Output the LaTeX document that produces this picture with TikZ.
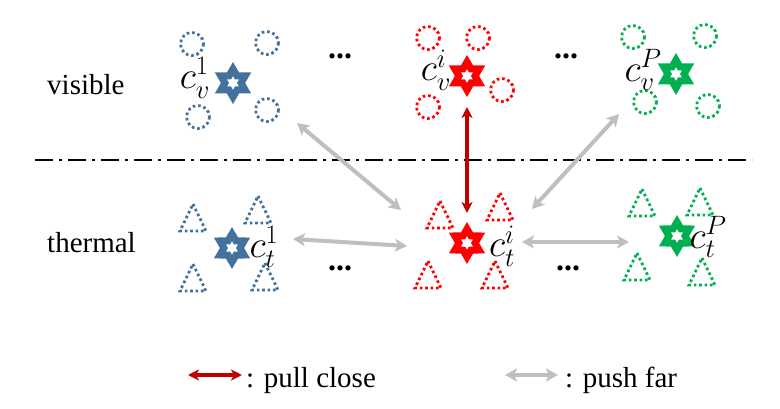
\documentclass[tikz,border=0pt]{standalone}
\usepackage{fix-cm}
\usepackage{fontspec}
\setmainfont{Liberation Serif}
\usetikzlibrary{shapes.geometric,arrows.meta}
\definecolor{cblue}{HTML}{41719C}
\definecolor{cred}{HTML}{FF0000}
\definecolor{cgreen}{HTML}{00B050}
\definecolor{cdark}{HTML}{C00000}
\definecolor{cgray}{HTML}{BFBFBF}
\tikzset{
  hstar/.style={star, star points=6, star point ratio=1.732, minimum size=28pt, inner sep=0pt, outer sep=0pt, line width=7pt, fill=white, draw=#1},
  dcirc/.style={draw=#1, line width=2.8pt, dash pattern=on 2.6pt off 2.8pt, line cap=butt},
  dtri/.style={draw=#1, line width=2.8pt, dash pattern=on 2.6pt off 2.8pt, line cap=butt},
  lab/.style={font=\fontsize{38}{40}\selectfont, inner sep=0pt},
  rowlab/.style={font=\fontsize{29}{32}\selectfont, inner sep=0pt},
  dots/.style={font=\fontsize{32}{34}\selectfont\bfseries, inner sep=0pt},
  push/.style={draw=cgray, line width=4pt, {Stealth[length=12pt,width=13pt,inset=3pt]}-{Stealth[length=12pt,width=13pt,inset=3pt]}},
  pull/.style={draw=cdark, line width=3.5pt, {Stealth[length=11pt,width=11pt,inset=3pt]}-{Stealth[length=11pt,width=11pt,inset=3pt]}},
}
\newcommand{\dottri}[3]{\draw[dtri=#3] (#1,#2-14) -- (#1+13,#2+13) -- (#1-13,#2+13) -- cycle;}
\begin{document}
\begin{tikzpicture}[x=1pt,y=-1pt]
\useasboundingbox (0,0) rectangle (780,409);
% row labels
\node[rowlab, anchor=base west] (vis) at (47,95) {visible};
\node[rowlab, anchor=base west] (the) at (47,252) {thermal};
% dash-dot separator
\coordinate (sepL) at (35,160);
\coordinate (sepR) at (752,160);
\draw[line width=2.6pt, dash pattern=on 18pt off 6pt on 3pt off 6pt] (sepL) -- (sepR);
% visible circles
\foreach \x/\y in {192/44, 267/43, 198/117, 267/110}{\draw[dcirc=cblue] (\x,\y) circle (11.5);}
\foreach \x/\y in {428/38, 478/38, 502/90, 428/107}{\draw[dcirc=cred] (\x,\y) circle (11.5);}
\foreach \x/\y in {633/37, 705/36, 645/102, 708/106}{\draw[dcirc=cgreen] (\x,\y) circle (11.5);}
% thermal triangles
\foreach \x/\y in {193/218, 258/210, 193/278, 265/277}{\dottri{\x}{\y}{cblue}}
\foreach \x/\y in {440/215, 500/207, 428/275, 495/275}{\dottri{\x}{\y}{cred}}
\foreach \x/\y in {642/203, 700/202, 637/267, 702/272}{\dottri{\x}{\y}{cgreen}}
% stars
\node[hstar=cblue] (bv) at (233,83) {};
\node[hstar=cred] (rv) at (467,76) {};
\node[hstar=cgreen] (gv) at (676,74) {};
\node[hstar=cblue] (bt) at (232,248) {};
\node[hstar=cred] (rt) at (467,243) {};
\node[hstar=cgreen] (gt) at (677,236) {};
% labels
\node[lab] (lbv) at (195,78) {$c_v^1$};
\node[lab] (lrv) at (436,70) {$c_v^i$};
\node[lab] (lgv) at (643,70) {$c_v^P$};
\node[lab] (lbt) at (264,247) {$c_t^1$};
\node[lab] (lrt) at (502,246) {$c_t^i$};
\node[lab] (lgt) at (708,237) {$c_t^P$};
% ellipses
\node[dots] (d1) at (340,56) {...};
\node[dots] (d2) at (566,56) {...};
\node[dots] (d3) at (340,268) {...};
\node[dots] (d4) at (568,268) {...};
% arrows
\coordinate (a1s) at (297,123); \coordinate (a1e) at (401,210);
\coordinate (a2s) at (619,114); \coordinate (a2e) at (532,209);
\coordinate (a3s) at (293,239); \coordinate (a3e) at (407,246);
\coordinate (a4s) at (522,242); \coordinate (a4e) at (629,242);
\draw[push] (a1s) -- (a1e);
\draw[push] (a2s) -- (a2e);
\draw[push] (a3s) -- (a3e);
\draw[push] (a4s) -- (a4e);
\draw[pull, shorten <=17pt, shorten >=16pt] (rv) -- (rt);
% legend
\coordinate (l1s) at (188,375); \coordinate (l1e) at (242,375);
\draw[pull] (l1s) -- (l1e);
\node[rowlab, anchor=base west] (t1) at (246,387) {: pull close};
\coordinate (l2s) at (505,375); \coordinate (l2e) at (558,375);
\draw[push] (l2s) -- (l2e);
\node[rowlab, anchor=base west] (t2) at (565,387) {: push far};
\end{tikzpicture}
\end{document}
